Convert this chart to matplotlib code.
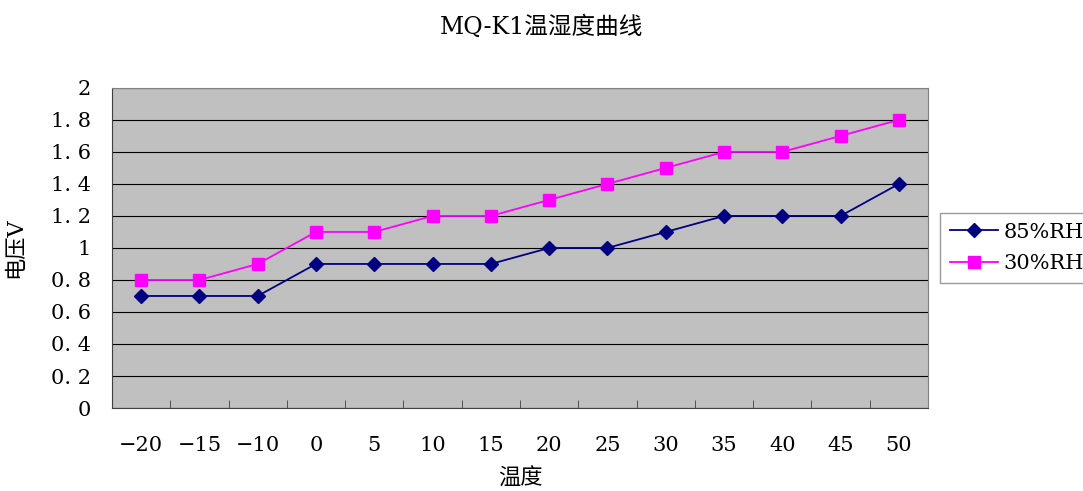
import numpy as np
import matplotlib.pyplot as plt

# 数据
temps = ['−20', '−15', '−10', '0', '5', '10', '15', '20', '25', '30', '35', '40', '45', '50']
rh85 = [0.7, 0.7, 0.7, 0.9, 0.9, 0.9, 0.9, 1.0, 1.0, 1.1, 1.2, 1.2, 1.2, 1.4]
rh30 = [0.8, 0.8, 0.9, 1.1, 1.1, 1.2, 1.2, 1.3, 1.4, 1.5, 1.6, 1.6, 1.7, 1.8]
yticks = [0, 0.2, 0.4, 0.6, 0.8, 1.0, 1.2, 1.4, 1.6, 1.8, 2.0]
ylabels = ['0', '0. 2', '0. 4', '0. 6', '0. 8', '1', '1. 2', '1. 4', '1. 6', '1. 8', '2']

plt.rcParams['font.family'] = ['DejaVu Serif', 'Noto Sans CJK SC']

fig = plt.figure(figsize=(10.83, 4.91), dpi=100)
ax = fig.add_axes([0.1034, 0.169, 0.7535, 0.652])
ax.set_facecolor('#C0C0C0')

x = np.arange(len(temps))
ax.plot(x, rh85, color='#000080', marker='D', markersize=7, lw=1.3, label='85%RH', zorder=3)
ax.plot(x, rh30, color='#FF00FF', marker='s', markersize=8, lw=1.3, label='30%RH', zorder=3)

ax.set_xlim(-0.5, len(temps) - 0.5)
ax.set_ylim(0, 2)
ax.set_yticks(yticks)
ax.set_yticklabels(ylabels, fontsize=15)
ax.yaxis.grid(True, color='black', lw=0.8)
ax.set_axisbelow(True)

ax.set_xticks(x)
ax.set_xticklabels(temps, fontsize=15)
ax.set_xticks(x[:-1] + 0.5, minor=True)
ax.tick_params(axis='x', which='major', length=0, pad=20)
ax.tick_params(axis='x', which='minor', direction='in', length=6, color='#404040')
ax.tick_params(axis='y', length=0, pad=15)

for s in ['top', 'right']:
    ax.spines[s].set_color('#808080')
for s in ['left', 'bottom']:
    ax.spines[s].set_color('#404040')

ax.set_xlabel('温度', fontsize=16, labelpad=9)
ax.set_ylabel('电压V', fontsize=16, labelpad=18)
fig.text(0.5, 0.945, 'MQ-K1温湿度曲线', ha='center', va='center', fontsize=17)

leg = ax.legend(loc='center left', bbox_to_anchor=(1.015, 0.5), fontsize=15,
                frameon=True, fancybox=False, edgecolor='#808080', handlelength=2.3,
                handletextpad=0.3, borderaxespad=0, borderpad=0.45, labelspacing=0.6)
leg.get_frame().set_linewidth(1)

fig.savefig('out.png', dpi=100)
